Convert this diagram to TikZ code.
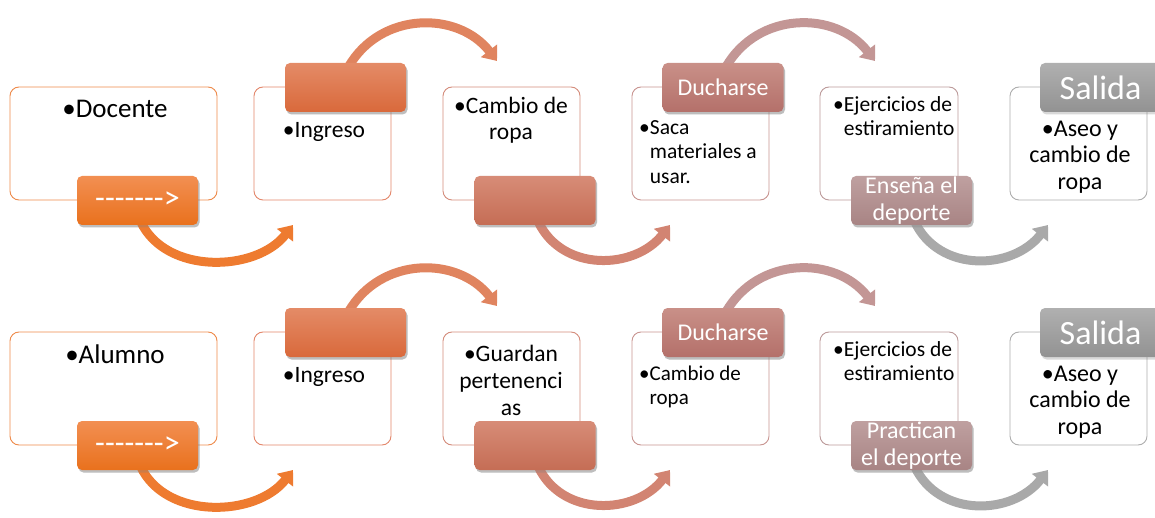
\documentclass[tikz,border=0pt]{standalone}
\usepackage{fontspec}
\setmainfont{Carlito}
\usepackage{tikz}
\usetikzlibrary{arrows.meta}
\usetikzlibrary{shadows}
\usetikzlibrary{positioning}

\definecolor{lineA}{HTML}{EE8A4A}
\definecolor{lineB}{HTML}{E3866A}
\definecolor{lineC}{HTML}{D48C7B}
\definecolor{lineD}{HTML}{C89490}
\definecolor{lineE}{HTML}{BC9A9A}
\definecolor{lineF}{HTML}{ADADAD}
\definecolor{arrA}{HTML}{EE7B30}
\definecolor{arrB}{HTML}{E0845F}
\definecolor{arrC}{HTML}{D28472}
\definecolor{arrD}{HTML}{C39695}
\definecolor{arrE}{HTML}{A9A9A9}

\newcommand{\smallfont}{\fontsize{21.5}{24.5}\selectfont}
\newcommand{\midfont}{\fontsize{23.5}{26.5}\selectfont}
\newcommand{\hy}{-\kern0pt}

\begin{document}
\begin{tikzpicture}[x=1pt,y=-1pt]
  \useasboundingbox (0,0) rectangle (1155,518);
  \tikzstyle{box}=[draw,fill=white,rounded corners=9pt,minimum width=137pt,minimum height=113pt,line width=0.9pt]
  \tikzstyle{tab}=[rounded corners=5pt,minimum width=121pt,minimum height=49pt,inner sep=0pt,text=white,align=center,
    font=\fontsize{24}{27}\selectfont,drop shadow={shadow xshift=1.5pt,shadow yshift=-2.5pt,opacity=0.3}]
  \tikzstyle{flow}=[line width=9pt,-{Triangle[width=20pt,length=13pt]}]
  \tikzstyle{txt}=[inner sep=0pt,align=center,font=\midfont]

  \foreach \r/\dy/\tabtext in {a/0/{Enseña el\\deporte},b/245/{Practican\\el deporte}}{
    % boxes
    \node[box,minimum width=207pt,draw=lineA] (box\r1) at (113.5,143.5+\dy) {};
    \node[box,draw=lineB] (box\r2) at (322.5,143.5+\dy) {};
    \node[box,draw=lineC] (box\r3) at (511.5,143.5+\dy) {};
    \node[box,draw=lineD] (box\r4) at (700.5,143.5+\dy) {};
    \node[box,draw=lineE,minimum width=138pt] (box\r5) at (889,143.5+\dy) {};
    \node[box,draw=lineF] (box\r6) at (1078.5,143.5+\dy) {};
    % arrows
    \coordinate (tip\r1) at (293,225+\dy);
    \coordinate (tip\r2) at (497,61+\dy);
    \coordinate (tip\r3) at (670,225+\dy);
    \coordinate (tip\r4) at (875,61+\dy);
    \coordinate (tip\r5) at (1048,225+\dy);
    \node[tab,draw=none] (tab\r1) at (137.5,200.5+\dy) {};
    \node[tab,draw=none] (tab\r2) at (345.5,87.5+\dy) {};
    \node[tab,draw=none] (tab\r3) at (535,200.5+\dy) {};
    \node[tab,draw=none] (tab\r4) at (723,87.5+\dy) {};
    \node[tab,draw=none] (tab\r5) at (911.5,200.5+\dy) {};
    \draw[flow,arrA] ([xshift=3pt,yshift=4pt]tab\r1.south) to[out=-65,in=-128] (tip\r1);
    \draw[flow,arrB] ([xshift=3pt,yshift=-4pt]tab\r2.north) to[out=60,in=128,looseness=1.1] (tip\r2);
    \draw[flow,arrC] ([xshift=3pt,yshift=4pt]tab\r3.south) to[out=-65,in=-128,looseness=1.1] (tip\r3);
    \draw[flow,arrD] ([xshift=3pt,yshift=-4pt]tab\r4.north) to[out=60,in=128,looseness=1.1] (tip\r4);
    \draw[flow,arrE] ([xshift=3pt,yshift=4pt]tab\r5.south) to[out=-65,in=-128,looseness=1.1] (tip\r5);
    % tabs
    \node[tab,top color={rgb,255:red,242;green,143;blue,82},bottom color={rgb,255:red,233;green,113;blue,29},
      font=\fontsize{32}{34}\selectfont] at (tab\r1) {\hy\hy\hy\hy\hy\hy\hy{>}};
    \node[tab,top color={rgb,255:red,228;green,139;blue,103},bottom color={rgb,255:red,217;green,105;blue,59}] at (tab\r2) {};
    \node[tab,top color={rgb,255:red,215;green,140;blue,119},bottom color={rgb,255:red,197;green,109;blue,85}] at (tab\r3) {};
    \node[tab,top color={rgb,255:red,201;green,144;blue,136},bottom color={rgb,255:red,180;green,112;blue,106}] at (tab\r4) {Ducharse};
    \node[tab,top color={rgb,255:red,191;green,160;blue,160},bottom color={rgb,255:red,168;green,132;blue,132}] at (tab\r5) {\tabtext};
    \node[tab,top color={rgb,255:red,176;green,176;blue,176},bottom color={rgb,255:red,146;green,146;blue,146},
      font=\fontsize{34}{40}\selectfont] (tab\r6) at (1100.5,87.5+\dy) {Salida};
  }

  % texts, first row
  \node[txt,font=\fontsize{27}{30}\selectfont] (docente) at (115,109) {•Docente};
  \node[txt] (ingresoa) at (324,132) {•Ingreso};
  \node[txt] (cambioa) at (511,120) {•Cambio de\\ropa};
  \node[txt,font=\smallfont,align=left,anchor=west] (saca) at (639,152) {•Saca\\\phantom{•}materiales a\\\phantom{•}usar.};
  \node[txt,font=\smallfont,align=left,anchor=west] (ejera) at (833,116) {•Ejercicios de\\\phantom{•}estiramiento};
  \node[txt,font=\fontsize{24}{26.5}\selectfont] (aseoa) at (1080,157) {•Aseo y\\cambio de\\ropa};
  % texts, second row
  \node[txt,font=\fontsize{27}{30}\selectfont] (alumno) at (115,354) {•Alumno};
  \node[txt] (ingresob) at (324,377) {•Ingreso};
  \node[txt,font=\fontsize{23.5}{27}\selectfont] (guardan) at (511,380) {•Guardan\\pertenenci\\as};
  \node[txt,font=\fontsize{21}{23.5}\selectfont,align=left,anchor=west] (cambiob) at (639,387) {•Cambio de\\\phantom{•}ropa};
  \node[txt,font=\smallfont,align=left,anchor=west] (ejerb) at (833,361) {•Ejercicios de\\\phantom{•}estiramiento};
  \node[txt,font=\fontsize{24}{26.5}\selectfont] (aseob) at (1080,402) {•Aseo y\\cambio de\\ropa};
\end{tikzpicture}
\end{document}
